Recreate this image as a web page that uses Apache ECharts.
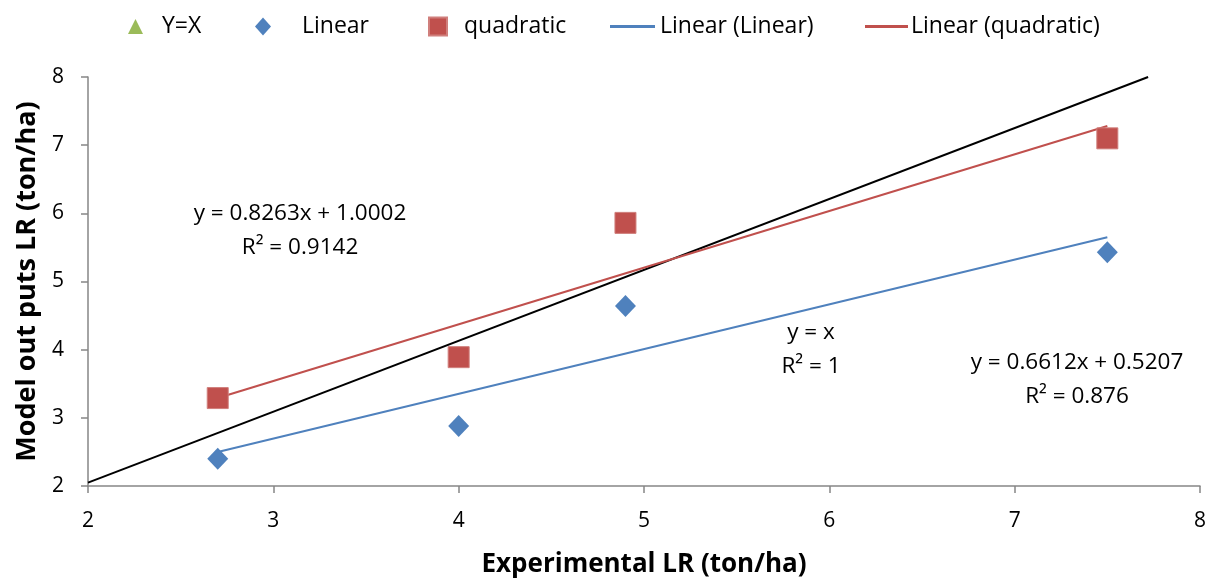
<!DOCTYPE html>
<html>
<head>
<meta charset="UTF-8">
<title>Model vs experimental LR</title>
<script src="https://cdn.jsdelivr.net/npm/echarts@6/dist/echarts.min.js"></script>
<style>
  * { margin: 0; padding: 0; }
  #app { width: 1216px; height: 580px; background: #fff; }
</style>
</head>
<body>
<div id="app"></div>
<script>
// experimental LR (x) and model outputs (y)
var xExp = [2.7, 4, 4.9, 7.5];
var yLinear = [2.4, 2.88, 4.64, 5.43];
var yQuadratic = [3.29, 3.89, 5.86, 7.1];
// trendline end points as drawn
var trendLinear = [[2.7, 2.5], [7.5, 5.65]];
var trendQuadratic = [[2.7, 3.29], [7.5, 7.28]];
var trendYX = [[2, 2.05], [7.72, 8]];

var FONT = 'Open Sans';
var BLUE = '#4F81BD', RED = '#C0504D', GREEN = '#9BBB59';

function pairs(xs, ys) {
  return xs.map(function (x, i) { return [x, ys[i]]; });
}

function oneLegend(name, left, icon, w, h, pad) {
  return {
    data: [name],
    left: left,
    top: 10,
    icon: icon,
    itemWidth: w,
    itemHeight: h,
    selectedMode: false,
    itemStyle: { opacity: 1 },
    textStyle: { fontFamily: FONT, fontSize: 23, color: '#000', padding: [0, 0, 0, pad] }
  };
}

function note(x, y, text) {
  return {
    type: 'text', x: x, y: y,
    style: {
      text: text, align: 'center', verticalAlign: 'top',
      fontFamily: FONT, fontSize: 22.5, fill: '#000', lineHeight: 34
    }
  };
}

var chart = echarts.init(document.getElementById('app'));

var option = {
  animation: false,
  textStyle: { fontFamily: FONT },
  legend: [
    oneLegend('Y=X', 123, 'triangle', 15, 15, 14),
    oneLegend('Linear', 250, 'diamond', 16, 18, 26),
    oneLegend('quadratic', 423, 'rect', 18, 18, 12),
    oneLegend('Linear (Linear)', 605, 'rect', 45, 3, 0),
    oneLegend('Linear (quadratic)', 860, 'rect', 43, 3, -2)
  ],
  grid: { left: 88, right: 16, top: 77, bottom: 94, containLabel: false, outerBoundsMode: 'none' },
  xAxis: {
    type: 'value',
    min: 2, max: 8, interval: 1,
    name: 'Experimental LR (ton/ha)',
    nameLocation: 'middle',
    nameGap: 66,
    nameTextStyle: { fontFamily: FONT, fontSize: 26, fontWeight: 'bold', color: '#000' },
    axisLine: { show: true, lineStyle: { color: '#868686', width: 1.5 } },
    axisTick: { show: true, length: 7, lineStyle: { color: '#868686', width: 1.5 } },
    axisLabel: { fontFamily: FONT, fontSize: 21, color: '#000', margin: 25 },
    splitLine: { show: false }
  },
  yAxis: {
    type: 'value',
    min: 2, max: 8, interval: 1,
    name: 'Model out puts LR (ton/ha)',
    nameLocation: 'middle',
    nameGap: 42,
    nameTextStyle: { fontFamily: FONT, fontSize: 27, fontWeight: 'bold', color: '#000' },
    axisLine: { show: true, lineStyle: { color: '#868686', width: 1.5 } },
    axisTick: { show: true, length: 7, lineStyle: { color: '#868686', width: 1.5 } },
    axisLabel: { fontFamily: FONT, fontSize: 21, color: '#000', margin: 24 },
    splitLine: { show: false }
  },
  series: [
    {
      name: 'Y=X trend',
      type: 'line',
      data: trendYX,
      symbol: 'none',
      lineStyle: { color: '#000', width: 2 },
      z: 2
    },
    {
      name: 'Linear (Linear)',
      type: 'line',
      data: trendLinear,
      symbol: 'none',
      itemStyle: { color: BLUE },
      lineStyle: { color: BLUE, width: 2 },
      z: 2
    },
    {
      name: 'Linear (quadratic)',
      type: 'line',
      data: trendQuadratic,
      symbol: 'none',
      itemStyle: { color: RED },
      lineStyle: { color: RED, width: 2 },
      z: 2
    },
    {
      name: 'Y=X',
      type: 'scatter',
      data: [],
      symbol: 'triangle',
      itemStyle: { color: GREEN, opacity: 1 }
    },
    {
      name: 'Linear',
      type: 'scatter',
      data: pairs(xExp, yLinear),
      symbol: 'diamond',
      symbolSize: [21, 22],
      itemStyle: { color: BLUE, opacity: 1 },
      z: 5
    },
    {
      name: 'quadratic',
      type: 'scatter',
      data: pairs(xExp, yQuadratic),
      symbol: 'rect',
      symbolSize: 21,
      itemStyle: { color: RED, opacity: 1, borderColor: '#D07F7C', borderWidth: 1 },
      z: 5
    }
  ],
  graphic: [
    note(300, 197, 'y = 0.8263x + 1.0002\nR² = 0.9142'),
    note(811, 316, 'y = x\nR² = 1'),
    note(1077, 346, 'y = 0.6612x + 0.5207\nR² = 0.876')
  ]
};

chart.setOption(option);
</script>
</body>
</html>
